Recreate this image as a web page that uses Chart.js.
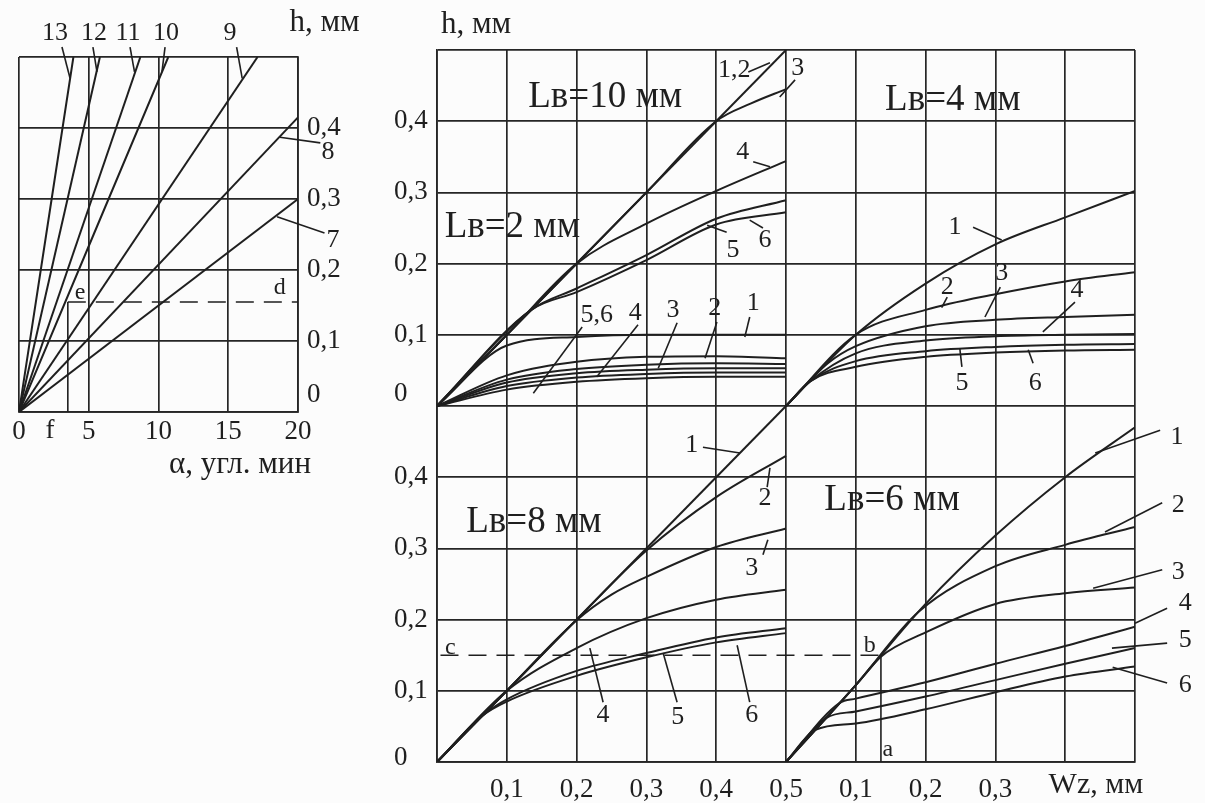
<!DOCTYPE html>
<html>
<head>
<meta charset="utf-8">
<script src="https://cdn.jsdelivr.net/npm/chart.js@4.4.1/dist/chart.umd.min.js"></script>
<style>
  html, body { margin: 0; padding: 0; background: #fcfcfc; }
  body { width: 1205px; height: 803px; position: relative; overflow: hidden; }
  #alphaChart { position: absolute; left: 0; top: 0; }
  #wzChart { position: absolute; left: 380px; top: 0; }
</style>
</head>
<body>
<canvas id="alphaChart" width="380" height="490"></canvas>
<canvas id="wzChart" width="825" height="803"></canvas>
<script>
// left nomogram: h (mm) against alpha (angular minutes), lines 7..13 from the origin
const alphaLine7 = [[0, 0], [20, 0.3]];
const alphaLine8 = [[0, 0], [20, 0.415]];
const alphaLine9 = [[0, 0], [17.1, 0.5]];
const alphaLine10 = [[0, 0], [10.7, 0.5]];
const alphaLine11 = [[0, 0], [8.7, 0.5]];
const alphaLine12 = [[0, 0], [5.8, 0.5]];
const alphaLine13 = [[0, 0], [3.9, 0.5]];
const alphaTickLabels = ["0", "5", "10", "15", "20"];
const hLeftTickLabels = ["", "0,1", "0,2", "0,3", "0,4", ""];

// right nomogram: h (mm) against Wz (mm), curves 1..6 per Lв
const lb10_12 = [[0, 0], [0.5, 0.5]];
const lb10_3 = [[0, 0], [0.3, 0.3], [0.4, 0.4], [0.45, 0.425], [0.5, 0.445]];
const lb10_4 = [[0, 0], [0.1, 0.1], [0.2, 0.2], [0.3, 0.256], [0.4, 0.302], [0.5, 0.344]];
const lb10_5 = [[0, 0], [0.135, 0.135], [0.2, 0.165], [0.3, 0.212], [0.4, 0.263], [0.5, 0.289]];
const lb10_6 = [[0, 0], [0.135, 0.135], [0.2, 0.16], [0.3, 0.205], [0.4, 0.255], [0.5, 0.272]];

const lb2_1 = [[0, 0], [0.1, 0.085], [0.2, 0.097], [0.3, 0.1], [0.4, 0.1], [0.5, 0.1]];
const lb2_2 = [[0, 0], [0.1, 0.043], [0.2, 0.062], [0.3, 0.069], [0.4, 0.07], [0.5, 0.067]];
const lb2_3 = [[0, 0], [0.1, 0.037], [0.2, 0.052], [0.3, 0.058], [0.4, 0.06], [0.5, 0.059]];
const lb2_4 = [[0, 0], [0.1, 0.033], [0.2, 0.046], [0.3, 0.051], [0.4, 0.053], [0.5, 0.053]];
const lb2_5 = [[0, 0], [0.1, 0.028], [0.2, 0.04], [0.3, 0.045], [0.4, 0.047], [0.5, 0.047]];
const lb2_6 = [[0, 0], [0.1, 0.023], [0.2, 0.034], [0.3, 0.039], [0.4, 0.041], [0.5, 0.041]];

const lb4_1 = [[0, 0], [0.1, 0.1], [0.2, 0.172], [0.3, 0.227], [0.4, 0.265], [0.5, 0.302]];
const lb4_2 = [[0, 0], [0.1, 0.1], [0.2, 0.135], [0.3, 0.157], [0.4, 0.175], [0.5, 0.188]];
const lb4_3 = [[0, 0], [0.06, 0.06], [0.1, 0.084], [0.2, 0.112], [0.3, 0.121], [0.4, 0.125], [0.5, 0.128]];
const lb4_4 = [[0, 0], [0.035, 0.035], [0.1, 0.074], [0.2, 0.092], [0.3, 0.098], [0.4, 0.1], [0.5, 0.101]];
const lb4_5 = [[0, 0], [0.035, 0.035], [0.1, 0.063], [0.2, 0.077], [0.3, 0.083], [0.4, 0.086], [0.5, 0.087]];
const lb4_6 = [[0, 0], [0.035, 0.035], [0.1, 0.055], [0.2, 0.069], [0.3, 0.075], [0.4, 0.078], [0.5, 0.079]];

const lb8_1 = [[0, 0], [0.5, 0.5]];
const lb8_2 = [[0, 0], [0.1, 0.1], [0.2, 0.2], [0.3, 0.297], [0.4, 0.372], [0.5, 0.43]];
const lb8_3 = [[0, 0], [0.1, 0.1], [0.2, 0.199], [0.25, 0.235], [0.3, 0.26], [0.4, 0.302], [0.5, 0.328]];
const lb8_4 = [[0, 0], [0.1, 0.1], [0.2, 0.16], [0.3, 0.202], [0.4, 0.228], [0.5, 0.242]];
const lb8_5 = [[0, 0], [0.065, 0.065], [0.1, 0.088], [0.2, 0.128], [0.3, 0.153], [0.4, 0.175], [0.5, 0.188]];
const lb8_6 = [[0, 0], [0.065, 0.065], [0.1, 0.085], [0.2, 0.121], [0.3, 0.147], [0.4, 0.168], [0.5, 0.181]];

const lb6_1 = [[0, 0], [0.1, 0.108], [0.2, 0.222], [0.3, 0.318], [0.4, 0.4], [0.5, 0.47]];
const lb6_2 = [[0, 0], [0.1, 0.108], [0.19, 0.211], [0.3, 0.275], [0.4, 0.305], [0.5, 0.33]];
const lb6_3 = [[0, 0], [0.1, 0.108], [0.136, 0.148], [0.2, 0.182], [0.3, 0.222], [0.4, 0.237], [0.5, 0.245]];
const lb6_4 = [[0, 0], [0.077, 0.083], [0.1, 0.089], [0.2, 0.112], [0.3, 0.138], [0.4, 0.163], [0.5, 0.19]];
const lb6_5 = [[0, 0], [0.058, 0.062], [0.1, 0.071], [0.2, 0.092], [0.3, 0.115], [0.4, 0.138], [0.5, 0.16]];
const lb6_6 = [[0, 0], [0.042, 0.045], [0.1, 0.054], [0.2, 0.074], [0.3, 0.098], [0.4, 0.12], [0.5, 0.134]];

const wzTickLabels = ["", "0,1", "0,2", "0,3", "0,4", "0,5", "0,1", "0,2", "0,3", "", ""];
const hTickLabels = ["", "0,1", "0,2", "0,3", "0,4", "", "0,1", "0,2", "0,3", "0,4", ""];

const ink = "#1f1f1f";
const serif = '"Liberation Serif", "DejaVu Serif", serif';

// panels of the right chart share one 0..1 scale, offset by half
function curveSet(curves, dx, dy) {
  return curves.map((pts) => ({
    data: pts.map(([wz, h]) => ({ x: wz + dx, y: h + dy })),
    borderColor: ink,
    borderWidth: 2,
    pointRadius: 0,
    fill: false,
    cubicInterpolationMode: "monotone",
  }));
}

function notes(lines, texts) {
  return {
    id: "notes",
    afterDraw(chart) {
      const { ctx, scales: { x, y } } = chart;
      ctx.save();
      ctx.strokeStyle = ink;
      ctx.lineWidth = 1.6;
      lines.forEach(([x1, y1, x2, y2, dashed]) => {
        ctx.setLineDash(dashed ? [18, 10] : []);
        ctx.beginPath();
        ctx.moveTo(x.getPixelForValue(x1), y.getPixelForValue(y1));
        ctx.lineTo(x.getPixelForValue(x2), y.getPixelForValue(y2));
        ctx.stroke();
      });
      ctx.setLineDash([]);
      ctx.fillStyle = ink;
      ctx.textBaseline = "middle";
      texts.forEach(([t, tx, ty, size, align]) => {
        ctx.font = size + "px " + serif;
        ctx.textAlign = align || "center";
        ctx.fillText(t, x.getPixelForValue(tx), y.getPixelForValue(ty));
      });
      ctx.restore();
    },
  };
}

const gridStyle = { color: "#262626", lineWidth: 1.7, drawTicks: false };
const borderStyle = { display: true, color: "#262626", width: 1.7 };
const tickFont = { family: serif, size: 27 };

// ---- left chart
const leftLines = [
  [3.08, 0.514, 3.66, 0.47],
  [5.3, 0.514, 5.59, 0.479],
  [7.96, 0.514, 8.28, 0.479],
  [10.47, 0.514, 10.25, 0.479],
  [15.6, 0.514, 16.0, 0.47],
  [18.7, 0.387, 21.6, 0.379],
  [18.5, 0.275, 21.9, 0.252],
  [3.5, 0, 3.5, 0.155],
  [3.5, 0.155, 20, 0.155, true],
];
const leftTexts = [
  ["h, мм", 21.9, 0.548, 31],
  ["13", 2.58, 0.534, 26],
  ["12", 5.38, 0.534, 26],
  ["11", 7.81, 0.534, 26],
  ["10", 10.54, 0.534, 26],
  ["9", 15.13, 0.534, 26],
  ["8", 22.15, 0.366, 26],
  ["7", 22.5, 0.242, 26],
  ["e", 4.37, 0.168, 24],
  ["d", 18.7, 0.175, 24],
  ["f", 2.22, -0.027, 27],
  ["α, угл. мин", 15.84, -0.075, 31],
  ["0", 20.65, 0.024, 27, "left"],
];

new Chart(document.getElementById("alphaChart"), {
  type: "line",
  data: {
    datasets: curveSet([alphaLine7, alphaLine8, alphaLine9, alphaLine10, alphaLine11, alphaLine12, alphaLine13], 0, 0),
  },
  options: {
    responsive: false,
    animation: false,
    layout: { padding: { left: 19, top: 57, right: 0, bottom: 0 } },
    plugins: { legend: { display: false }, tooltip: { enabled: false } },
    scales: {
      x: {
        type: "linear",
        min: 0,
        max: 20,
        grid: gridStyle,
        border: borderStyle,
        afterFit: (s) => { s.height = 78; },
        ticks: {
          stepSize: 5,
          autoSkip: false,
          maxRotation: 0,
          padding: 4,
          color: ink,
          font: tickFont,
          callback: (v) => alphaTickLabels[Math.round(v / 5)],
        },
      },
      y: {
        position: "right",
        min: 0,
        max: 0.5,
        grid: gridStyle,
        border: borderStyle,
        afterFit: (s) => { s.width = 82; },
        ticks: {
          stepSize: 0.1,
          autoSkip: false,
          padding: 9,
          crossAlign: "near",
          color: ink,
          font: tickFont,
          callback: (v) => hLeftTickLabels[Math.round(v * 10)],
        },
      },
    },
  },
  plugins: [notes(leftLines, leftTexts)],
});

// ---- right chart
const bigLines = [
  // Lв=10
  [0.446, 0.969, 0.477, 0.982], [0.513, 0.958, 0.491, 0.934], [0.453, 0.843, 0.477, 0.836],
  [0.415, 0.744, 0.387, 0.754], [0.467, 0.75, 0.448, 0.761],
  // Lв=2
  [0.208, 0.611, 0.138, 0.518], [0.288, 0.614, 0.229, 0.541], [0.344, 0.617, 0.317, 0.553],
  [0.401, 0.618, 0.384, 0.567], [0.448, 0.625, 0.441, 0.597],
  // Lв=4
  [0.768, 0.751, 0.809, 0.733], [0.731, 0.653, 0.723, 0.638], [0.807, 0.667, 0.785, 0.625],
  [0.914, 0.646, 0.868, 0.604], [0.752, 0.555, 0.749, 0.581], [0.854, 0.56, 0.847, 0.579],
  // Lв=8
  [0.381, 0.442, 0.434, 0.434], [0.473, 0.386, 0.477, 0.413], [0.467, 0.291, 0.474, 0.312],
  [0.238, 0.084, 0.219, 0.16], [0.344, 0.084, 0.324, 0.153], [0.448, 0.084, 0.43, 0.164],
  // Lв=6
  [1.036, 0.466, 0.943, 0.434], [1.039, 0.364, 0.957, 0.323], [1.039, 0.27, 0.94, 0.244],
  [1.046, 0.216, 1.0, 0.195], [1.046, 0.167, 0.967, 0.16], [1.046, 0.111, 0.968, 0.133],
  // construction c - b - a
  [0.005, 0.15, 0.636, 0.15, true],
  [0.636, 0.15, 0.636, 0],
];
const bigTexts = [
  ["h, мм", 0.056, 1.035, 31],
  ["Lв=10 мм", 0.241, 0.934, 37],
  ["Lв=2 мм", 0.108, 0.751, 37],
  ["Lв=4 мм", 0.739, 0.93, 37],
  ["Lв=8 мм", 0.139, 0.336, 37],
  ["Lв=6 мм", 0.652, 0.368, 37],
  ["Wz, мм", 0.944, -0.032, 30],
  ["0", -0.0616, 0.517, 27, "left"],
  ["0", -0.0616, 0.006, 27, "left"],
  ["c", 0.019, 0.16, 24],
  ["b", 0.62, 0.164, 24],
  ["a", 0.646, 0.017, 24],
  ["1,2", 0.426, 0.972, 26], ["3", 0.517, 0.975, 26], ["4", 0.438, 0.857, 26],
  ["5", 0.424, 0.719, 26], ["6", 0.47, 0.733, 26],
  ["5,6", 0.229, 0.628, 26], ["4", 0.284, 0.631, 26], ["3", 0.338, 0.635, 26],
  ["2", 0.398, 0.638, 26], ["1", 0.453, 0.645, 26],
  ["1", 0.742, 0.751, 26], ["2", 0.731, 0.667, 26], ["3", 0.809, 0.687, 26],
  ["4", 0.917, 0.663, 26], ["5", 0.752, 0.532, 26], ["6", 0.857, 0.532, 26],
  ["1", 0.365, 0.445, 26], ["2", 0.47, 0.371, 26], ["3", 0.451, 0.272, 26],
  ["4", 0.238, 0.066, 26], ["5", 0.345, 0.063, 26], ["6", 0.451, 0.066, 26],
  ["1", 1.06, 0.456, 26], ["2", 1.062, 0.361, 26], ["3", 1.062, 0.267, 26],
  ["4", 1.072, 0.223, 26], ["5", 1.072, 0.171, 26], ["6", 1.072, 0.108, 26],
];

new Chart(document.getElementById("wzChart"), {
  type: "line",
  data: {
    datasets: [
      ...curveSet([lb10_12, lb10_3, lb10_4, lb10_5, lb10_6], 0, 0.5),
      ...curveSet([lb2_1, lb2_2, lb2_3, lb2_4, lb2_5, lb2_6], 0, 0.5),
      ...curveSet([lb4_1, lb4_2, lb4_3, lb4_4, lb4_5, lb4_6], 0.5, 0.5),
      ...curveSet([lb8_1, lb8_2, lb8_3, lb8_4, lb8_5, lb8_6], 0, 0),
      ...curveSet([lb6_1, lb6_2, lb6_3, lb6_4, lb6_5, lb6_6], 0.5, 0),
    ],
  },
  options: {
    responsive: false,
    animation: false,
    layout: { padding: { left: 14, top: 50, right: 70, bottom: 0 } },
    plugins: { legend: { display: false }, tooltip: { enabled: false } },
    scales: {
      x: {
        type: "linear",
        min: 0,
        max: 1,
        grid: gridStyle,
        border: borderStyle,
        afterFit: (s) => { s.height = 41; },
        ticks: {
          stepSize: 0.1,
          autoSkip: false,
          maxRotation: 0,
          padding: 12,
          color: ink,
          font: tickFont,
          callback: (v) => wzTickLabels[Math.round(v * 10)],
        },
      },
      y: {
        min: 0,
        max: 1,
        grid: gridStyle,
        border: borderStyle,
        afterFit: (s) => { s.width = 43; },
        ticks: {
          stepSize: 0.1,
          autoSkip: false,
          crossAlign: "far",
          color: ink,
          font: tickFont,
          callback: (v) => hTickLabels[Math.round(v * 10)],
        },
      },
    },
  },
  plugins: [notes(bigLines, bigTexts)],
});
</script>
</body>
</html>
